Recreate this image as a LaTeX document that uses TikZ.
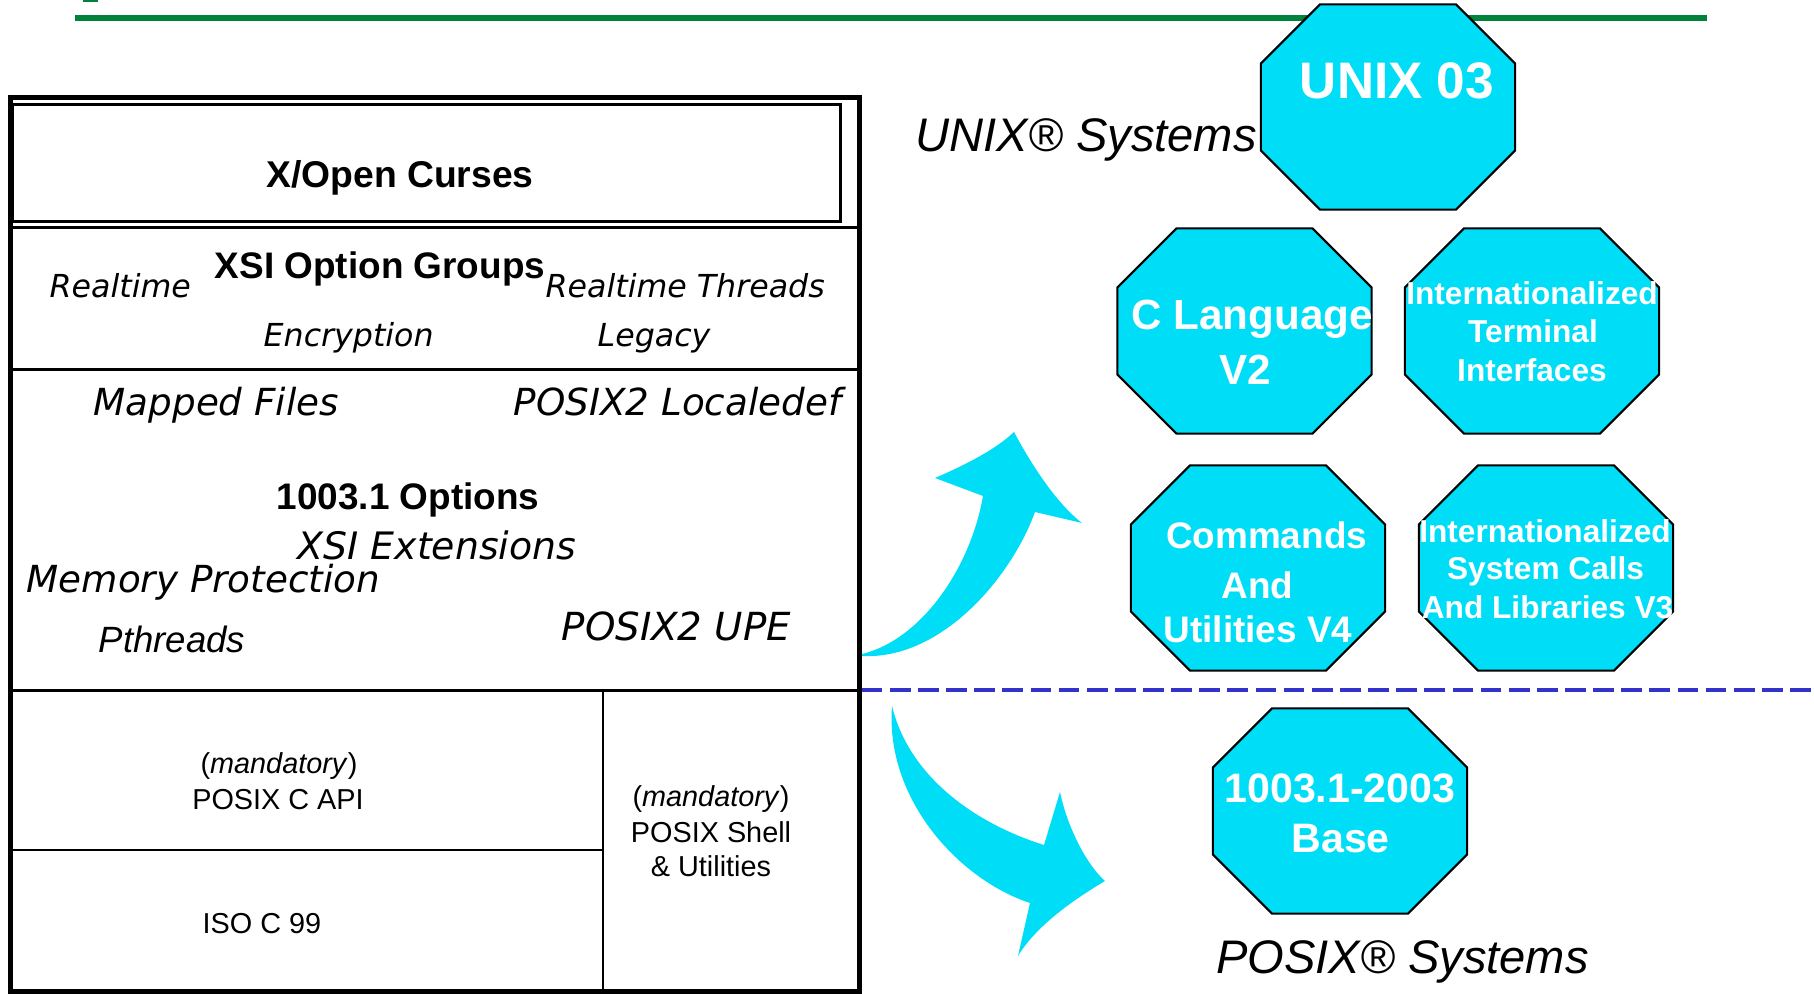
\documentclass[tikz,border=0pt]{standalone}
\usepackage{fontspec}
\setmainfont{Liberation Sans}
\newfontfamily\verdana{DejaVu Sans}
\usetikzlibrary{calc}

\definecolor{octcyan}{RGB}{0,221,247}
\definecolor{rulegreen}{RGB}{0,130,60}
\definecolor{splitblue}{RGB}{51,51,204}

\begin{document}
\begin{tikzpicture}[x=0.01cm, y=-0.01cm]
    \tikzstyle{head} = [inner sep=0, anchor=base, font=\fontsize{10.5}{12}\selectfont\bfseries]
    \tikzstyle{xsiopt} = [inner sep=0, anchor=base west, font=\fontsize{9}{11}\selectfont\verdana\itshape]
    \tikzstyle{posixopt} = [inner sep=0, anchor=base west, font=\fontsize{10.6}{12}\selectfont\verdana\itshape]
    \tikzstyle{plain} = [inner sep=0, anchor=base, font=\fontsize{8.2}{10}\selectfont]
    \tikzstyle{system} = [inner sep=0, anchor=base west, font=\fontsize{13.4}{15}\selectfont\itshape]
    \tikzstyle{octbox} = [rectangle, inner sep=0, outer sep=0, minimum width=2.54cm, minimum height=2.05cm]
    \tikzstyle{octfill} = [fill=octcyan, draw=black, line width=0.6pt, line join=miter]
    \tikzstyle{octtext} = [inner sep=0, anchor=base, text=white, font=\bfseries]
    \tikzstyle{bigarrow} = [fill=octcyan, draw=none]

    \useasboundingbox (0,0) rectangle (1814,994);

    \newcommand*{\octa}[1]{
        \draw[octfill] ($(#1.north west)+(59,0)$) -- ($(#1.north east)+(-59,0)$)
            -- ($(#1.north east)+(0,59)$) -- ($(#1.south east)+(0,-59)$)
            -- ($(#1.south east)+(-59,0)$) -- ($(#1.south west)+(59,0)$)
            -- ($(#1.south west)+(0,-59)$) -- ($(#1.north west)+(0,59)$) -- cycle;
    }

    % title rule
    \fill[rulegreen] (83,0) rectangle (98,2);
    \draw[rulegreen, line width=1.56pt] (75,18) -- (1707,18);

    % the stack of specifications
    \draw[line width=1.4pt] (10.8,97.5) rectangle (859.5,991.5);
    \draw[line width=0.8pt] (13,104.5) rectangle (840.5,221.3);
    \draw[line width=0.65pt] (10.8,227.5) -- (859.5,227.5);
    \draw[line width=0.65pt] (10.8,369.5) -- (859.5,369.5);
    \draw[line width=0.65pt] (10.8,690.5) -- (859.5,690.5);
    \draw[line width=0.65pt] (10.8,850) -- (603,850);
    \draw[line width=0.65pt] (603,690.5) -- (603,991.5);

    \node (curses) [head, font=\fontsize{10.6}{12}\selectfont\bfseries] at (400,188) {X/Open Curses};

    \node (xsigroups) [head] at (380,278) {XSI Option Groups};
    \node (realtime) [xsiopt] at (49,298) {Realtime};
    \node (rtthreads) [xsiopt] at (545,298) {Realtime Threads};
    \node (encrypt) [xsiopt] at (263,347) {Encryption};
    \node (legacy) [xsiopt] at (597,347) {Legacy};

    \node (mapped) [posixopt] at (93,416) {Mapped Files};
    \node (localedef) [posixopt] at (513,416) {POSIX2 Localedef};
    \node (options) [head] at (408,509) {1003.1 Options};
    \node (xsiext) [posixopt, font=\fontsize{10.75}{12}\selectfont\verdana\itshape] at (297,560) {XSI Extensions};
    \node (memprot) [posixopt] at (26,593) {Memory Protection};
    \node (pthreads) [inner sep=0, anchor=base west, font=\fontsize{10.4}{12}\selectfont\itshape] at (98,652) {Pthreads};
    \node (upe) [posixopt, font=\fontsize{11}{12}\selectfont\verdana\itshape] at (561,640) {POSIX2 UPE};

    \node (capimand) [plain] at (279,773) {(\textit{mandatory})};
    \node (capi) [plain] at (278,809) {POSIX C API};
    \node (isoc) [plain] at (262,933) {ISO C 99};
    \node (shellmand) [plain] at (711,806) {(\textit{mandatory})};
    \node (shell) [plain] at (711,842) {POSIX Shell};
    \node (utils) [plain] at (711,876) {\& Utilities};

    % split between UNIX and POSIX
    \draw[splitblue, line width=1pt, dash pattern=on 5.9pt off 2.1pt] (861.7,690) -- (1814,690);

    % up arrow
    \fill[bigarrow] (862,656) .. controls (940,660) and (1010,580) .. (1035,512)
        -- (1082,523) .. controls (1055,502) and (1030,462) .. (1014,432)
        .. controls (995,450) and (965,465) .. (935,478)
        -- (983,496) .. controls (970,570) and (920,640) .. (862,654) -- cycle;

    % down arrow
    \fill[bigarrow] (892,706) .. controls (885,800) and (960,880) .. (1030,903)
        -- (1018,956) .. controls (1035,928) and (1068,903) .. (1105,881)
        .. controls (1088,866) and (1068,830) .. (1060,792)
        -- (1044,845) .. controls (980,825) and (910,780) .. (892,706) -- cycle;

    % octagons
    \node (unix) [octbox] at (1388,107) {};
    \node (clang) [octbox] at (1244.5,331) {};
    \node (iterm) [octbox] at (1532,331) {};
    \node (cmds) [octbox] at (1258,568) {};
    \node (isys) [octbox] at (1546,568) {};
    \node (base) [octbox] at (1340,811) {};

    \octa{unix}
    \octa{clang}
    \octa{iterm}
    \octa{cmds}
    \octa{isys}
    \octa{base}

    \node (unixtxt) [octtext, font=\fontsize{14.6}{17}\selectfont\bfseries] at (1397,99) {UNIX 03};

    \node (clangA) [octtext, font=\fontsize{12}{15}\selectfont\bfseries] at (1252,330) {C Language};
    \node (clangB) [octtext, font=\fontsize{12}{15}\selectfont\bfseries] at (1245,385) {V2};

    \node (itermA) [octtext, font=\fontsize{9}{11}\selectfont\bfseries] at (1532,305) {Internationalized};
    \node (itermB) [octtext, font=\fontsize{9}{11}\selectfont\bfseries] at (1533,343) {Terminal};
    \node (itermC) [octtext, font=\fontsize{9}{11}\selectfont\bfseries] at (1532,382) {Interfaces};

    \node (cmdsA) [octtext, font=\fontsize{10.5}{13}\selectfont\bfseries] at (1266.6,548) {Commands};
    \node (cmdsB) [octtext, font=\fontsize{10.5}{13}\selectfont\bfseries] at (1257.5,598) {And};
    \node (cmdsC) [octtext, font=\fontsize{10.5}{13}\selectfont\bfseries] at (1258,642) {Utilities V4};

    \node (isysA) [octtext, font=\fontsize{9}{11}\selectfont\bfseries] at (1545,542) {Internationalized};
    \node (isysB) [octtext, font=\fontsize{9}{11}\selectfont\bfseries] at (1545.6,580) {System Calls};
    \node (isysC) [octtext, font=\fontsize{9}{11}\selectfont\bfseries] at (1547.6,618) {And Libraries V3};

    \node (baseA) [octtext, font=\fontsize{11.7}{14}\selectfont\bfseries] at (1340,802) {1003.1-2003};
    \node (baseB) [octtext, font=\fontsize{11.7}{14}\selectfont\bfseries] at (1340.7,852) {Base};

    \node (unixsys) [system] at (915,152) {UNIX\textregistered{} Systems};
    \node (posixsys) [system] at (1215.5,973) {POSIX\textregistered{} Systems};

\end{tikzpicture}
\end{document}
